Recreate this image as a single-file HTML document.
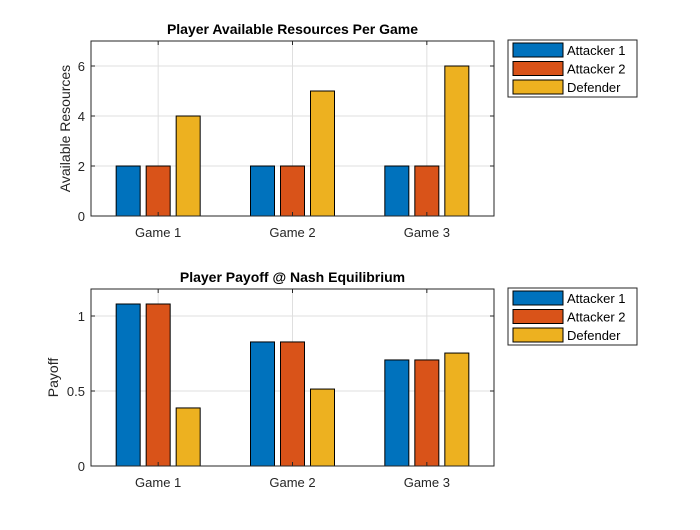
<!DOCTYPE html>
<html><head><meta charset="utf-8"><style>
body{margin:0;background:#fff;font-family:"Liberation Sans",Arial,sans-serif}
svg text{font-family:"Liberation Sans",Arial,sans-serif}
</style></head><body>
<svg id="c" width="700" height="525" viewBox="0 0 700 525"></svg>
<script>
const categories=["Game 1","Game 2","Game 3"];
const seriesNames=["Attacker 1","Attacker 2","Defender"];
const colors=["#0072BD","#D95319","#EDB120"];
const resA1=[2,2,2];
const resA2=[2,2,2];
const resDef=[4,5,6];
const payA1=[1.08,0.827,0.707];
const payA2=[1.08,0.827,0.707];
const payDef=[0.387,0.513,0.753];
const resTicks=[0,2,4,6];
const payTicks=[0,0.5,1];
const payTickLabels=["0","0.5","1"];

const svg=document.getElementById('c');
const NS="http://www.w3.org/2000/svg";
function mk(tag,attrs,parent){const e=document.createElementNS(NS,tag);for(const k in attrs)e.setAttribute(k,attrs[k]);(parent||svg).appendChild(e);return e;}

function panel(cfg){
  const g=mk('g',{});
  
  
  const L=91,R=494,T=cfg.top,B=cfg.bottom;
  const x=v=>L+(v-0.5)*(R-L)/3;
  const y=v=>B-v*(B-T)/cfg.ymax;
  mk('rect',{x:L,y:T,width:R-L,height:B-T,fill:'#fff'},g);
  // grid
  categories.forEach((c,i)=>{mk('line',{x1:x(i+1),x2:x(i+1),y1:T,y2:B,stroke:'#dfdfdf','stroke-width':1},g);});
  cfg.ticks.forEach(t=>{mk('line',{x1:L,x2:R,y1:y(t),y2:y(t),stroke:'#dfdfdf','stroke-width':1},g);});
  // bars
  const series=cfg.series;
  categories.forEach((c,i)=>{
    series.forEach((s,j)=>{
      const cx=x(i+1)+(j-1)*30;
      const b=mk('rect',{x:cx-12,y:y(s[i]),width:24,height:B-y(s[i]),fill:colors[j],stroke:'#000','stroke-width':1},g);
      
      
    });
  });
  mk('rect',{x:L,y:T,width:R-L,height:B-T,fill:'none',stroke:'#262626','stroke-width':1},g);
  // x ticks & labels
  categories.forEach((c,i)=>{
    mk('line',{x1:x(i+1),x2:x(i+1),y1:B,y2:B-4,stroke:'#262626'},g);
    mk('line',{x1:x(i+1),x2:x(i+1),y1:T,y2:T+4,stroke:'#262626'},g);
    const t=mk('text',{x:x(i+1),y:B+21,'text-anchor':'middle','font-size':13,fill:'#262626'},g);
    t.textContent=c;
    
    
  });
  cfg.ticks.forEach((v,k)=>{
    mk('line',{x1:L,x2:L+4,y1:y(v),y2:y(v),stroke:'#262626'},g);
    mk('line',{x1:R,x2:R-4,y1:y(v),y2:y(v),stroke:'#262626'},g);
    const t=mk('text',{x:L-6,y:y(v)+5,'text-anchor':'end','font-size':13,fill:'#262626'},g);
    t.textContent=cfg.tickLabels[k];
    
    
  });
  const tt=mk('text',{x:(L+R)/2,y:T-7,'text-anchor':'middle','font-size':14,'font-weight':'bold',fill:'#000'},g);
  tt.textContent=cfg.title;
  
  
  const yl=mk('text',{x:0,y:0,'text-anchor':'middle','font-size':14,fill:'#262626',transform:`translate(${cfg.ylx},${(T+B)/2}) rotate(-90)`},g);
  yl.textContent=cfg.ylabel;
  
  
  // legend
  const lg=mk('g',{},g);
  
  
  const LT=T-1;
  mk('rect',{x:508,y:LT,width:129,height:57,fill:'#fff',stroke:'#262626'},lg);
  seriesNames.forEach((n,j)=>{
    const e=mk('g',{},lg);
    
    
    mk('rect',{x:513,y:LT+3+j*18.5,width:50,height:14,fill:colors[j],stroke:'#000'},e);
    const t=mk('text',{x:567,y:LT+15+j*18.5,'font-size':13,fill:'#000'},e);
    t.textContent=n;
  });
}
panel({name:'resources-panel',top:41,bottom:216,ymax:7,ticks:resTicks,tickLabels:resTicks.map(String),series:[resA1,resA2,resDef],title:'Player Available Resources Per Game',ylabel:'Available Resources',ylx:70});
panel({name:'payoff-panel',top:289,bottom:466,ymax:1.18,ticks:payTicks,tickLabels:payTickLabels,series:[payA1,payA2,payDef],title:'Player Payoff @ Nash Equilibrium',ylabel:'Payoff',ylx:58});
</script>
</body></html>
